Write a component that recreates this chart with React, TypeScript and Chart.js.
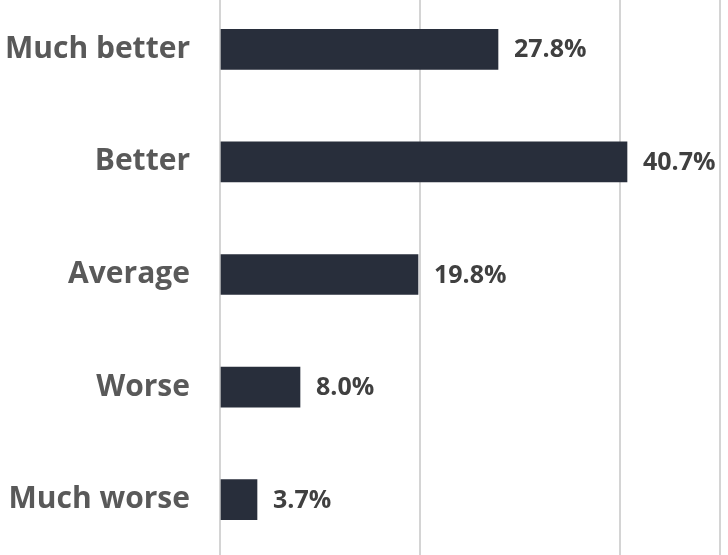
import React, { useEffect, useRef } from "react";
import { Chart, registerables } from "chart.js";

Chart.register(...registerables);

const categories = ["Much better", "Better", "Average", "Worse", "Much worse"];
const values = [27.8, 40.7, 19.8, 8.0, 3.7];
const axisMax = 50;
const axisStep = 20;

const FONT = "'Open Sans', sans-serif";

const valueLabels = {
  id: "valueLabels",
  afterDatasetsDraw(chart: any) {
    const ctx = chart.ctx;
    const meta = chart.getDatasetMeta(0);
    ctx.save();
    ctx.font = `bold 25px ${FONT}`;
    ctx.fillStyle = "#404040";
    ctx.textAlign = "left";
    ctx.textBaseline = "middle";
    meta.data.forEach((bar: any, i: number) => {
      const v = chart.data.datasets[0].data[i] as number;
      ctx.fillText(v.toFixed(1) + "%", bar.x + 16, bar.y + 1);
    });
    ctx.restore();
  },
};

export default function App() {
  const ref = useRef<HTMLCanvasElement | null>(null);
  useEffect(() => {
    if (!ref.current) return;
    const chart = new Chart(ref.current, {
      type: "bar",
      data: {
        labels: categories,
        datasets: [
          {
            data: values,
            backgroundColor: "#282e3b",
            borderWidth: 0,
            barThickness: 40,
          },
        ],
      },
      options: {
        indexAxis: "y",
        animation: false,
        responsive: false,
        maintainAspectRatio: false,
        layout: { padding: { left: 0, right: 8, top: 0, bottom: 0 } },
        plugins: { legend: { display: false }, tooltip: { enabled: false } },
        scales: {
          x: {
            min: 0,
            max: axisMax,
            ticks: { display: false, stepSize: axisStep },
            grid: { color: "#d4d4d4", lineWidth: 2, drawTicks: false },
            border: { display: false },
          },
          y: {
            ticks: {
              color: "#595959",
              font: { family: FONT, size: 30, weight: "bold" },
              padding: 30,
            },
            grid: { display: false, drawTicks: false },
            border: { display: false },
            afterFit(scale: any) {
              scale.paddingTop = 0;
              scale.paddingBottom = 0;
              scale.width = 220;
            },
          },
        },
      },
      plugins: [valueLabels],
    });
    return () => chart.destroy();
  }, []);
  return (
    <div style={{ position: "fixed", left: 0, top: -7, width: 728, height: 563 }}>
      <canvas ref={ref} width={728} height={563} />
    </div>
  );
}
